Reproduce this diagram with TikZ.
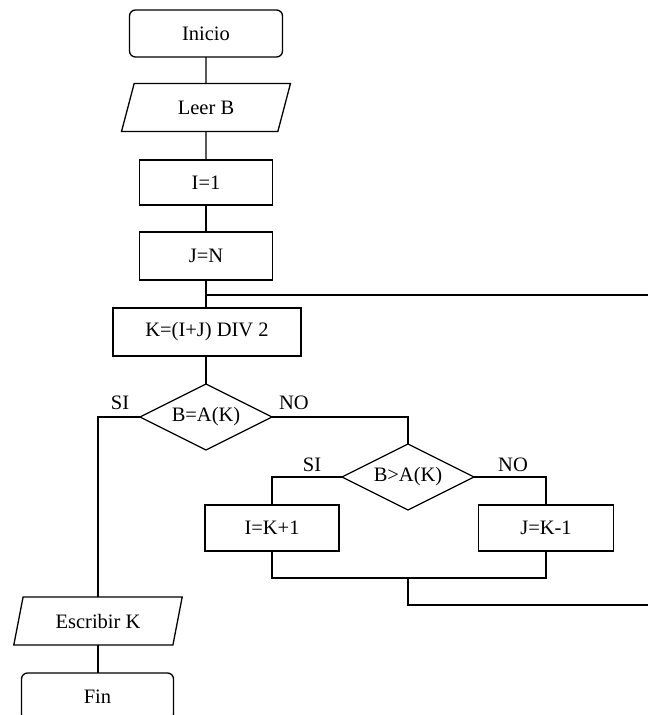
\documentclass[tikz,border=0pt]{standalone}
\usepackage{fontspec}
\setmainfont{Liberation Serif}
\usetikzlibrary{shapes.geometric}
\begin{document}
\begin{tikzpicture}[x=1pt,y=-1pt,
  every node/.style={font=\fontsize{20.5}{24}\selectfont, inner sep=0pt, outer sep=0pt},
  line/.style={draw=black, line width=1.3pt},
  stepbox/.style={line, rectangle, minimum height=47pt},
  term/.style={line, rectangle, rounded corners=6pt, minimum width=153pt, minimum height=47pt},
  io/.style={line, trapezium, trapezium left angle=70, trapezium right angle=110, trapezium stretches=true, minimum width=170pt, minimum height=48pt},
  dec/.style={line, diamond, aspect=2, minimum width=132pt, minimum height=66pt},
  lbl/.style={font=\fontsize{20.5}{24}\selectfont}]
\clip (0,0) rectangle (648,715);
\useasboundingbox (0,0) rectangle (648,715);

\node[term] (inicio) at (206,33.5) {Inicio};
\node[io] (leer) at (206,107.5) {Leer B};
\node[stepbox, minimum width=133pt, minimum height=45pt] (i1) at (206,182.5) {I=1};
\node[stepbox, minimum width=133pt, minimum height=48pt] (jn) at (206,256) {J=N};
\node[stepbox, minimum width=188pt, minimum height=48pt] (k) at (207,332) {K=(I+J) DIV 2};
\node[dec] (d1) at (206,417) {B=A(K)};
\node[dec] (d2) at (408,477) {B>A(K)};
\node[stepbox, minimum width=134pt, minimum height=46pt] (ik) at (272,528) {I=K+1};
\node[stepbox, minimum width=135pt, minimum height=46pt] (jk) at (546,528) {J=K-1};
\node[io] (esc) at (98,621) {Escribir K};
\node[term, minimum width=152pt] (fin) at (97.5,696.5) {Fin};

\node[lbl] (si1) at (120,403) {SI};
\node[lbl] (no1) at (294,403) {NO};
\node[lbl] (si2) at (312,465) {SI};
\node[lbl] (no2) at (513,465) {NO};

\coordinate (jt) at (206,295);
\coordinate (re1) at (648,295);
\coordinate (jb) at (408,578);
\coordinate (re2) at (648,605);

\draw[line] (inicio.south) -- (leer.north);
\draw[line] (leer.south) -- (i1.north);
\draw[line] (i1.south) -- (jn.north);
\draw[line] (jn.south) -- (k.north -| jn.south);
\draw[line] (jt) -- (re1);
\draw[line] (k.south -| d1.north) -- (d1.north);
\draw[line] (d1.west) -| (esc.north);
\draw[line] (d1.east) -| (d2.north);
\draw[line] (d2.west) -| (ik.north);
\draw[line] (d2.east) -| (jk.north);
\draw[line] (ik.south) |- (jb) -| (jk.south);
\draw[line] (jb) |- (re2);
\draw[line] (esc.south) -- (fin.north -| esc.south);
\end{tikzpicture}
\end{document}
